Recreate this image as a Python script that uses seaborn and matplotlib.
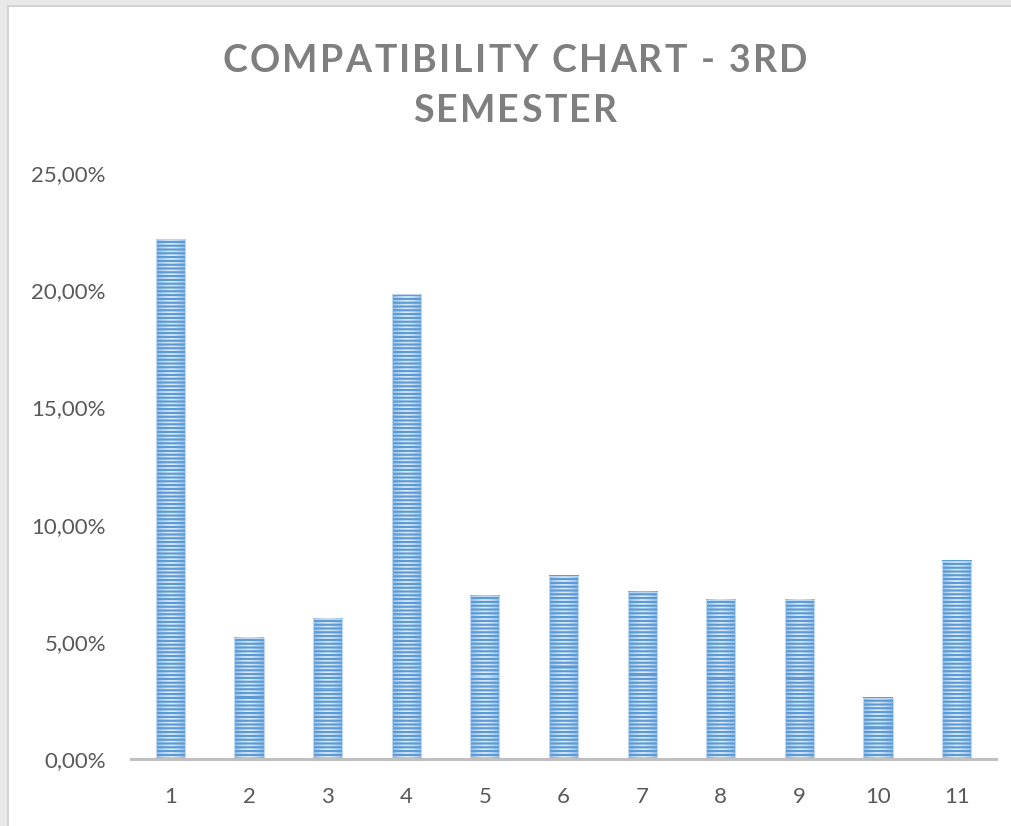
import numpy as np
import matplotlib
matplotlib.use("Agg")
import matplotlib.pyplot as plt
import seaborn as sns
from matplotlib.patches import Rectangle
from matplotlib.font_manager import FontProperties
from matplotlib.ticker import FuncFormatter

# ---- data -------------------------------------------------------------
semesters = ["1", "2", "3", "4", "5", "6", "7", "8", "9", "10", "11"]
shares = [0.2218, 0.0517, 0.0598, 0.1983, 0.0697, 0.0782,
          0.0714, 0.0679, 0.0679, 0.0261, 0.0846]
y_ticks = [0.0, 0.05, 0.10, 0.15, 0.20, 0.25]
title_lines = ["COMPATIBILITY CHART - 3RD", "SEMESTER"]

# ---- style ------------------------------------------------------------
sns.set_theme(style="white")
plt.rcParams["font.family"] = ["Lato", "DejaVu Sans"]

W, H = 1011, 826
fig = plt.figure(figsize=(W / 100, H / 100), dpi=100)
fig.patch.set_facecolor("white")

# light grey frame on the left and top edges
def px_rect(x, y, w, h, color):
    fig.add_artist(Rectangle((x / W, 1 - (y + h) / H), w / W, h / H,
                             transform=fig.transFigure, facecolor=color,
                             edgecolor="none", zorder=0))

px_rect(0, 0, 7, H, "#e9e9e9")
px_rect(0, 0, W, 5, "#e9e9e9")
px_rect(7, 5, 2, H, "#d4d4d4")
px_rect(7, 5, W, 2, "#d4d4d4")

ax_top, ax_bottom = 173, 759
ax = fig.add_axes([131 / W, 1 - ax_bottom / H, (996 - 131) / W,
                   (ax_bottom - ax_top) / H])
ax.set_facecolor("white")

sns.barplot(x=semesters, y=shares, color="#5b9bd5", saturation=1,
            width=0.37, ax=ax, zorder=2)

ax.set_xlim(-0.5, len(semesters) - 0.5)
ax.set_ylim(y_ticks[0], y_ticks[-1])

# striped fill with a soft horizontal highlight inside each bar
axis_px = ax_bottom - ax_top
rows = np.arange(axis_px)
stripe = np.clip(0.62 + 0.75 * np.cos(2 * np.pi * rows / 3.8), 0, 1)
ncols = 30
u = np.linspace(0, 1, ncols)
glow = 1 - (2 * np.abs(u - 0.5)) ** 1.4
dark = np.array([0x5a, 0x9a, 0xd6]) / 255
light_edge = np.array([0x92, 0xbd, 0xe6]) / 255
light_mid = np.array([0xde, 0xeb, 0xf8]) / 255
light = light_edge[None, :] * (1 - glow[:, None]) + light_mid[None, :] * glow[:, None]
texture = (dark[None, None, :] * stripe[:, None, None]
           + light[None, :, :] * (1 - stripe[:, None, None]))

span = y_ticks[-1] - y_ticks[0]
for bar in list(ax.patches):
    x0, w, h = bar.get_x(), bar.get_width(), bar.get_height()
    n = max(1, int(round(h / span * axis_px)))
    ax.imshow(texture[-n:], extent=(x0, x0 + w, 0, h),
              origin="upper", aspect="auto", interpolation="nearest",
              zorder=2.5)
    ax.add_patch(Rectangle((x0, 0), w, h, fill=False, edgecolor="#bcd6ef",
                           linewidth=0.8, zorder=2.6))

ax.set_xlim(-0.5, len(semesters) - 0.5)
ax.set_ylim(y_ticks[0], y_ticks[-1])
ax.set_aspect("auto")

ax.set_yticks(y_ticks)
ax.yaxis.set_major_formatter(
    FuncFormatter(lambda v, _: f"{v * 100:.2f}%".replace(".", ",")))
ax.tick_params(axis="y", length=0, pad=18, labelsize=16, labelcolor="#595959")
ax.tick_params(axis="x", length=0, pad=20, labelsize=16, labelcolor="#595959")
ax.set_xlabel("")
ax.set_ylabel("")
ax.grid(False)
for side in ["left", "right", "top"]:
    ax.spines[side].set_visible(False)
ax.spines["bottom"].set_color("#bfbfbf")
ax.spines["bottom"].set_linewidth(2.2)
ax.spines["bottom"].set_zorder(3)

# ---- letter-spaced title ---------------------------------------------
renderer = fig.canvas.get_renderer()
title_fp = FontProperties(family=["Lato", "DejaVu Sans"], weight="bold", size=27)
tracking = 2.4  # extra pixels between characters

def text_w(s):
    return renderer.get_text_width_height_descent(s, title_fp, ismath=False)[0]

def spaced_line(s, cx, baseline):
    base = text_w("II")
    adv = [text_w("I" + ch + "I") - base for ch in s]
    total = sum(adv) + tracking * (len(s) - 1)
    x = cx - total / 2
    for ch, a in zip(s, adv):
        fig.text(x / W, 1 - baseline / H, ch, fontproperties=title_fp,
                 color="#7f7f7f", ha="left", va="baseline")
        x += a + tracking

spaced_line(title_lines[0], 515, 72)
spaced_line(title_lines[1], 515, 122)

fig.savefig("out.png", dpi=100)
